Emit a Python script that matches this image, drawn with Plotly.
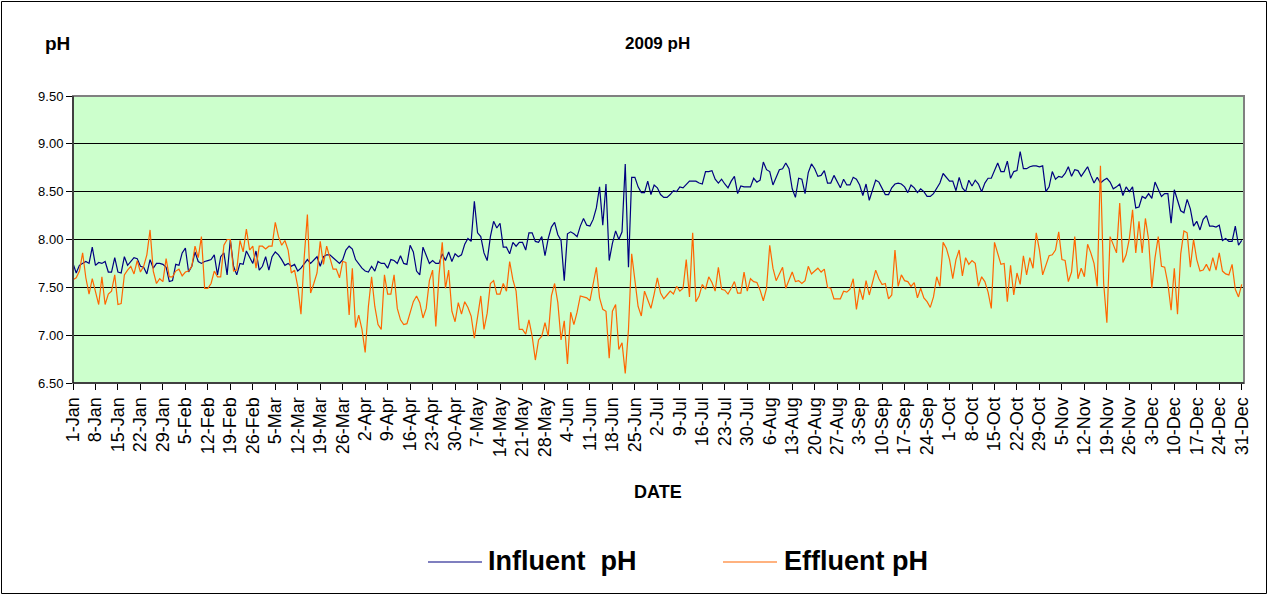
import plotly.graph_objects as go
import pandas as pd

# Categories: daily dates of 2009
dates = pd.date_range("2009-01-01", "2009-12-31", freq="D")

influent_ph = [
    7.75, 7.65, 7.73, 7.75, 7.77, 7.75, 7.92, 7.73, 7.76, 7.75,
    7.77, 7.66, 7.66, 7.81, 7.66, 7.65, 7.82, 7.73, 7.77, 7.81,
    7.80, 7.72, 7.71, 7.64, 7.79, 7.70, 7.75, 7.75, 7.74, 7.71,
    7.56, 7.57, 7.74, 7.73, 7.86, 7.91, 7.66, 7.72, 7.87, 7.77,
    7.75, 7.77, 7.78, 7.79, 7.84, 7.63, 7.82, 7.86, 7.63, 8.00,
    7.72, 7.63, 7.75, 7.74, 7.88, 7.81, 7.75, 7.88, 7.68, 7.72,
    7.82, 7.68, 7.82, 7.87, 7.84, 7.79, 7.73, 7.75, 7.72, 7.74,
    7.67, 7.70, 7.74, 7.79, 7.75, 7.79, 7.82, 7.72, 7.82, 7.84,
    7.84, 7.81, 7.78, 7.75, 7.79, 7.89, 7.93, 7.90, 7.79, 7.74,
    7.70, 7.67, 7.66, 7.72, 7.67, 7.77, 7.75, 7.75, 7.70, 7.79,
    7.78, 7.75, 7.83, 7.75, 7.74, 7.94, 7.87, 7.67, 7.63, 7.92,
    7.84, 7.75, 7.78, 7.75, 7.75, 7.85, 7.78, 7.87, 7.77, 7.85,
    7.82, 7.84, 7.95, 8.01, 7.98, 8.40, 8.07, 8.03, 7.86, 7.78,
    8.03, 8.19, 8.12, 8.17, 7.92, 7.92, 7.85, 7.97, 7.93, 7.97,
    7.97, 7.89, 8.07, 8.07, 7.98, 7.97, 8.03, 7.83, 8.01, 8.13,
    8.18, 8.05, 7.99, 7.57, 8.06, 8.08, 8.06, 8.03, 8.14, 8.22,
    8.15, 8.14, 8.21, 8.33, 8.55, 8.15, 8.58, 7.78, 7.96, 8.09,
    8.00, 8.08, 8.79, 7.71, 8.65, 8.65, 8.55, 8.49, 8.49, 8.61,
    8.47, 8.57, 8.54, 8.47, 8.44, 8.44, 8.47, 8.51, 8.50, 8.55,
    8.54, 8.57, 8.61, 8.61, 8.61, 8.59, 8.58, 8.71, 8.71, 8.72,
    8.63, 8.59, 8.63, 8.58, 8.54, 8.61, 8.66, 8.48, 8.56, 8.55,
    8.55, 8.55, 8.64, 8.60, 8.62, 8.81, 8.73, 8.71, 8.57, 8.65,
    8.73, 8.74, 8.80, 8.74, 8.53, 8.44, 8.64, 8.63, 8.48, 8.70,
    8.79, 8.74, 8.66, 8.67, 8.72, 8.59, 8.59, 8.67, 8.60, 8.54,
    8.63, 8.57, 8.57, 8.65, 8.63, 8.57, 8.46, 8.58, 8.41, 8.51,
    8.62, 8.60, 8.54, 8.47, 8.47, 8.54, 8.58, 8.59, 8.58, 8.55,
    8.49, 8.57, 8.54, 8.49, 8.53, 8.50, 8.45, 8.45, 8.48, 8.54,
    8.59, 8.69, 8.65, 8.61, 8.61, 8.51, 8.65, 8.54, 8.50, 8.62,
    8.56, 8.62, 8.58, 8.50, 8.59, 8.64, 8.64, 8.73, 8.80, 8.71,
    8.71, 8.82, 8.64, 8.71, 8.72, 8.92, 8.74, 8.74, 8.76, 8.77,
    8.77, 8.76, 8.77, 8.50, 8.55, 8.71, 8.63, 8.66, 8.65, 8.69,
    8.76, 8.66, 8.73, 8.72, 8.66, 8.71, 8.76, 8.67, 8.59, 8.65,
    8.59, 8.62, 8.64, 8.60, 8.53, 8.55, 8.58, 8.46, 8.55, 8.50,
    8.55, 8.33, 8.34, 8.45, 8.43, 8.48, 8.43, 8.60, 8.52, 8.45,
    8.48, 8.48, 8.17, 8.52, 8.41, 8.30, 8.28, 8.42, 8.32, 8.14,
    8.19, 8.10, 8.21, 8.25, 8.14, 8.14, 8.13, 8.15, 7.99, 8.01,
    7.98, 7.98, 8.14, 7.94, 7.99,
]

effluent_ph = [
    7.58, 7.60, 7.67, 7.86, 7.60, 7.43, 7.59, 7.44, 7.32, 7.61,
    7.32, 7.43, 7.46, 7.63, 7.32, 7.33, 7.63, 7.68, 7.72, 7.64,
    7.78, 7.66, 7.72, 7.84, 8.10, 7.67, 7.54, 7.59, 7.56, 7.80,
    7.61, 7.61, 7.67, 7.69, 7.62, 7.66, 7.67, 7.72, 7.93, 7.81,
    8.03, 7.49, 7.49, 7.54, 7.67, 7.61, 7.61, 7.94, 8.00, 8.00,
    7.67, 7.68, 7.99, 7.87, 8.11, 7.89, 7.93, 7.70, 7.93, 7.93,
    7.90, 7.93, 7.93, 8.18, 8.03, 7.94, 7.99, 7.89, 7.65, 7.68,
    7.51, 7.22, 7.81, 8.26, 7.44, 7.54, 7.65, 7.98, 7.74, 7.93,
    7.82, 7.69, 7.69, 7.60, 7.77, 7.76, 7.21, 7.70, 7.08, 7.21,
    7.06, 6.82, 7.30, 7.61, 7.30, 7.11, 7.06, 7.63, 7.43, 7.43,
    7.63, 7.28, 7.16, 7.11, 7.12, 7.23, 7.35, 7.41, 7.34, 7.18,
    7.28, 7.57, 7.68, 7.09, 7.63, 7.97, 7.49, 7.68, 7.25, 7.14,
    7.34, 7.22, 7.35, 7.29, 7.20, 6.97, 7.18, 7.41, 7.06, 7.23,
    7.54, 7.57, 7.43, 7.43, 7.54, 7.46, 7.77, 7.58, 7.46, 7.06,
    7.06, 7.01, 7.16, 6.99, 6.74, 6.95, 6.99, 7.13, 6.99, 7.41,
    7.54, 7.34, 6.95, 7.15, 6.70, 7.24, 7.11, 7.24, 7.41, 7.40,
    7.39, 7.36, 7.54, 7.71, 7.39, 7.27, 7.25, 6.76, 7.25, 7.32,
    6.85, 6.92, 6.60, 7.06, 7.85, 7.60, 7.30, 7.20, 7.46, 7.37,
    7.28, 7.43, 7.60, 7.44, 7.38, 7.42, 7.46, 7.43, 7.51, 7.46,
    7.49, 7.79, 7.40, 8.07, 7.35, 7.41, 7.53, 7.48, 7.61, 7.55,
    7.46, 7.71, 7.48, 7.47, 7.43, 7.49, 7.56, 7.44, 7.44, 7.66,
    7.46, 7.59, 7.56, 7.55, 7.47, 7.36, 7.49, 7.94, 7.70, 7.57,
    7.64, 7.71, 7.49, 7.58, 7.66, 7.56, 7.57, 7.54, 7.57, 7.72,
    7.64, 7.67, 7.70, 7.66, 7.69, 7.50, 7.49, 7.38, 7.38, 7.38,
    7.46, 7.45, 7.48, 7.59, 7.27, 7.49, 7.37, 7.57, 7.42, 7.54,
    7.68, 7.59, 7.53, 7.54, 7.38, 7.42, 7.89, 7.51, 7.63, 7.57,
    7.56, 7.51, 7.55, 7.39, 7.49, 7.39, 7.35, 7.29, 7.40, 7.61,
    7.51, 7.97, 7.91, 7.79, 7.59, 7.79, 7.89, 7.62, 7.81, 7.74,
    7.78, 7.75, 7.51, 7.61, 7.56, 7.45, 7.28, 7.97, 7.86, 7.74,
    7.75, 7.35, 7.73, 7.42, 7.65, 7.53, 7.83, 7.63, 7.81, 7.70,
    8.07, 7.89, 7.63, 7.73, 7.83, 7.84, 7.89, 8.08, 7.79, 7.78,
    7.56, 7.66, 8.03, 7.59, 7.70, 7.61, 7.95, 7.86, 7.75, 7.51,
    8.77, 7.54, 7.13, 8.03, 7.94, 7.86, 8.38, 7.76, 7.84, 8.01,
    8.31, 7.86, 8.19, 7.86, 8.22, 8.00, 7.49, 7.81, 8.03, 7.72,
    7.71, 7.54, 7.26, 7.70, 7.22, 7.85, 8.09, 8.07, 7.71, 8.00,
    7.79, 7.67, 7.68, 7.74, 7.67, 7.81, 7.68, 7.86, 7.67, 7.64,
    7.63, 7.74, 7.48, 7.40, 7.53,
]

y_ticks = [6.5, 7.0, 7.5, 8.0, 8.5, 9.0, 9.5]

assert len(influent_ph) == len(dates), len(influent_ph)
assert len(effluent_ph) == len(dates), len(effluent_ph)

FONT = "Arial, 'Liberation Sans', sans-serif"
BLUE = "#000080"
ORANGE = "#FF6600"

# Figure geometry (pixels)
W, H = 1269, 596
PX0, PX1 = 73, 1244      # plot area left/right
PY0, PY1 = 96, 383       # plot area top/bottom


def px(xp):
    return (xp - PX0) / (PX1 - PX0)


def py(yp):
    return (PY1 - yp) / (PY1 - PY0)


fig = go.Figure()
fig.add_trace(go.Scatter(x=dates, y=influent_ph, mode="lines", name="Influent  pH",
                         line=dict(color=BLUE, width=1.2)))
fig.add_trace(go.Scatter(x=dates, y=effluent_ph, mode="lines", name="Effluent pH",
                         line=dict(color=ORANGE, width=1.2)))

fig.update_layout(
    width=W, height=H,
    margin=dict(l=PX0, r=W - PX1, t=PY0, b=H - PY1, autoexpand=False),
    paper_bgcolor="white",
    plot_bgcolor="#CCFFCC",
    showlegend=False,
    font=dict(family=FONT, color="black"),
)

fig.update_xaxes(
    type="date",
    range=["2009-01-01", "2009-12-31 17:00"],
    tick0="2009-01-01",
    dtick=7 * 86400000,
    tickformat="%-d-%b",
    tickangle=-90,
    tickfont=dict(size=18, family=FONT, color="black"),
    ticks="outside", ticklen=6, tickcolor="black", tickwidth=1,
    showgrid=False,
    showline=True, linecolor="black", linewidth=1,
    zeroline=False,
)

fig.update_yaxes(
    range=[6.5, 9.5],
    tickvals=y_ticks,
    tickformat=".2f",
    tickfont=dict(size=13, family=FONT, color="black"),
    ticks="outside", ticklen=6, tickcolor="black", tickwidth=1,
    showgrid=True, gridcolor="black", gridwidth=1,
    showline=True, linecolor="black", linewidth=1,
    zeroline=False,
)

shapes = [
    # plot area border (grey, Excel style)
    dict(type="rect", xref="paper", yref="paper", x0=0, x1=1, y0=0, y1=1,
         line=dict(color="#808080", width=2), layer="above"),
    # chart outer border
    dict(type="rect", xref="paper", yref="paper",
         x0=px(1.5), x1=px(1266.5), y0=py(593.5), y1=py(1.5),
         line=dict(color="black", width=1)),
    # legend keys
    dict(type="line", xref="paper", yref="paper",
         x0=px(428), x1=px(482), y0=py(562), y1=py(562),
         line=dict(color=BLUE, width=1.2)),
    dict(type="line", xref="paper", yref="paper",
         x0=px(723), x1=px(777), y0=py(562), y1=py(562),
         line=dict(color=ORANGE, width=1.2)),
]
# redraw left & bottom axis lines in black over the grey border
shapes.append(dict(type="line", xref="paper", yref="paper", x0=0, x1=0, y0=0, y1=1,
                   line=dict(color="black", width=1), layer="above"))
shapes.append(dict(type="line", xref="paper", yref="paper", x0=0, x1=1, y0=0, y1=0,
                   line=dict(color="black", width=1), layer="above"))

annotations = [
    dict(text="<b>pH</b>", x=px(57), y=py(44), xref="paper", yref="paper",
         showarrow=False, xanchor="center", yanchor="middle",
         font=dict(size=19, family=FONT, color="black")),
    dict(text="<b>2009 pH</b>", x=px(657), y=py(44), xref="paper", yref="paper",
         showarrow=False, xanchor="center", yanchor="middle",
         font=dict(size=17, family=FONT, color="black")),
    dict(text="<b>DATE</b>", x=px(658), y=py(492), xref="paper", yref="paper",
         showarrow=False, xanchor="center", yanchor="middle",
         font=dict(size=18, family=FONT, color="black")),
    dict(text="<b>Influent\u00a0 pH</b>", x=px(486), y=py(561), xref="paper", yref="paper",
         showarrow=False, xanchor="left", yanchor="middle",
         font=dict(size=27, family=FONT, color="black")),
    dict(text="<b>Effluent pH</b>", x=px(782), y=py(561), xref="paper", yref="paper",
         showarrow=False, xanchor="left", yanchor="middle",
         font=dict(size=27, family=FONT, color="black")),
]

fig.update_layout(shapes=shapes, annotations=annotations)

fig.write_html(
    "out.html",
    config={"displayModeBar": False},
    post_script="document.body.style.margin='0';document.body.style.padding='0';",
)
